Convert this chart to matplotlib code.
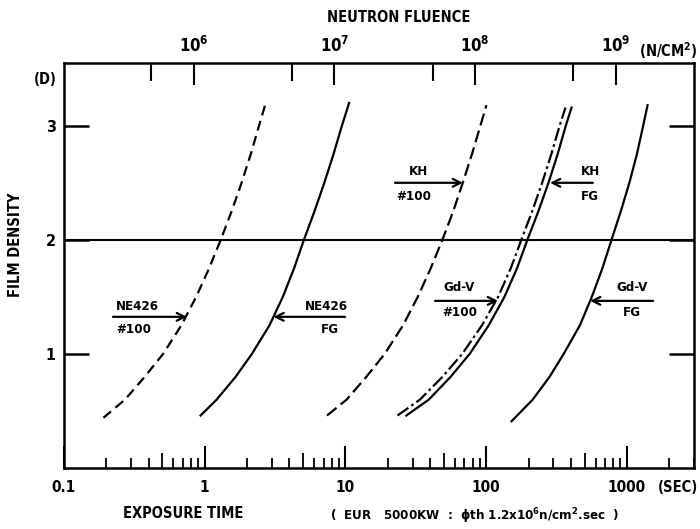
import matplotlib
matplotlib.use("Agg")
import matplotlib.pyplot as plt
from matplotlib.ticker import FixedLocator, NullFormatter, NullLocator, LogLocator

plt.rcParams['font.family'] = ['DejaVu Sans']
plt.rcParams['font.stretch'] = 'condensed'
plt.rcParams['font.weight'] = 'bold'
plt.rcParams['mathtext.default'] = 'regular'

# ---------------- data ----------------
FLUX = 1.2e6  # n/cm2/sec, converts exposure time -> neutron fluence

ne426_100_t = [0.1905, 0.2716, 0.375, 0.506, 0.682, 0.869, 1.074, 1.300, 1.552, 1.828, 2.123, 2.432, 2.716]
ne426_100_d = [0.44, 0.60, 0.80, 1.00, 1.25, 1.50, 1.75, 2.00, 2.25, 2.50, 2.75, 3.00, 3.20]

ne426_fg_t = [0.935, 1.216, 1.660, 2.163, 2.884, 3.589, 4.315, 5.070, 6.026, 7.079, 8.222, 9.441, 10.62]
ne426_fg_d = [0.46, 0.60, 0.80, 1.00, 1.25, 1.50, 1.75, 2.00, 2.25, 2.50, 2.75, 3.00, 3.20]

kh_100_t = [7.396, 10.21, 14.09, 19.01, 25.64, 32.66, 40.36, 48.87, 58.34, 68.23, 79.25, 90.99, 100.5]
kh_100_d = [0.46, 0.60, 0.80, 1.00, 1.25, 1.50, 1.75, 2.00, 2.25, 2.50, 2.75, 3.00, 3.18]

gdv_100_t = [23.44, 33.88, 48.98, 67.61, 93.33, 121.6, 149.6, 177.8, 212.3, 250.0, 290.4, 332.7, 366.4]
gdv_100_d = [0.46, 0.60, 0.80, 1.00, 1.25, 1.50, 1.75, 2.00, 2.25, 2.50, 2.75, 3.00, 3.16]

kh_fg_t = [27.10, 39.17, 55.98, 76.38, 104.2, 134.9, 165.6, 196.3, 235.0, 277.3, 322.1, 368.1, 404.6]
kh_fg_d = [0.46, 0.60, 0.80, 1.00, 1.25, 1.50, 1.75, 2.00, 2.25, 2.50, 2.75, 3.00, 3.16]

gdv_fg_t = [151.7, 214.3, 282.5, 355.6, 463.4, 563.6, 669.9, 778.0, 905.7, 1042, 1178, 1306, 1403]
gdv_fg_d = [0.41, 0.60, 0.80, 1.00, 1.25, 1.50, 1.75, 2.00, 2.25, 2.50, 2.75, 3.00, 3.18]

x_ticks = [0.1, 1, 10, 100, 1000]
x_tick_labels = ['0.1', '1', '10', '100', '1000']
x_mid_ticks = [0.5, 5, 50, 500]
y_ticks = [1, 2, 3]
y_tick_labels = ['1', '2', '3']
top_ticks = [1e6, 1e7, 1e8, 1e9]
top_tick_labels = ['$10^6$', '$10^7$', '$10^8$', '$10^9$']
top_minor_ticks = [5e5, 5e6, 5e7, 5e8]
ref_density = 2.0

# labels: (upper, lower, tail_t, tip_t, density, upper_t, upper_d, lower_t, lower_d)
annotations = [
    ('NE426', '#100', 0.223, 0.748, 1.325, 0.330, 1.42, 0.315, 1.21),
    ('NE426', 'FG', 9.93, 3.08, 1.325, 7.28, 1.42, 7.78, 1.21),
    ('KH', '#100', 22.5, 68.5, 2.50, 32.8, 2.60, 30.7, 2.38),
    ('KH', 'FG', 573.8, 284.4, 2.50, 547.7, 2.60, 547.7, 2.38),
    ('Gd-V', '#100', 43.4, 121.5, 1.465, 64.7, 1.58, 65.2, 1.36),
    ('Gd-V', 'FG', 1535, 547.7, 1.465, 1089, 1.58, 1089, 1.36),
]

# ---------------- figure ----------------
W, H = 700, 529
fig = plt.figure(figsize=(W / 100, H / 100), dpi=100)
L, R, T, B = 64, 694, 63, 468
ax = fig.add_axes([L / W, 1 - B / H, (R - L) / W, (B - T) / H])

ax.set_xscale('log')
ax.set_xlim(0.1, 3000)
ax.set_ylim(0, 3.55)

lw = 1.6
ax.plot(ne426_100_t, ne426_100_d, color='black', lw=lw, dashes=(4.5, 2.6))
ax.plot(ne426_fg_t, ne426_fg_d, color='black', lw=lw)
ax.plot(kh_100_t, kh_100_d, color='black', lw=lw, dashes=(5.5, 2.4))
ax.plot(gdv_100_t, gdv_100_d, color='black', lw=lw, dashes=(6, 1.6, 1.2, 1.6))
ax.plot(kh_fg_t, kh_fg_d, color='black', lw=lw)
ax.plot(gdv_fg_t, gdv_fg_d, color='black', lw=lw)

ax.axhline(ref_density, color='black', lw=1.5)

for up, lo, tail, tip, d, ux, uy, lx, ly in annotations:
    ax.annotate('', xy=(tip, d), xytext=(tail, d),
                arrowprops=dict(arrowstyle='->', lw=1.6, color='black',
                                shrinkA=0, shrinkB=0, mutation_scale=14))
    ax.text(ux, uy, up, ha='center', va='center', fontsize=9.5, fontweight='bold')
    ax.text(lx, ly, lo, ha='center', va='center', fontsize=9.5, fontweight='bold')

for s in ax.spines.values():
    s.set_linewidth(1.8)

ax.xaxis.set_major_locator(FixedLocator(x_ticks))
ax.set_xticklabels(x_tick_labels)
ax.xaxis.set_minor_locator(LogLocator(base=10, subs=(2, 3, 4, 6, 7, 8, 9), numticks=30))
ax.xaxis.set_minor_formatter(NullFormatter())
ax.tick_params(axis='x', which='major', direction='in', length=16, width=1.5,
               labelsize=11, pad=9, top=False)
ax.tick_params(axis='x', which='minor', direction='in', length=7, width=1.3, top=False)

ax.set_yticks(y_ticks)
ax.set_yticklabels(y_tick_labels)
ax.tick_params(axis='y', which='major', direction='in', length=18, width=1.8,
               labelsize=11.5, pad=6, right=True)

# medium ticks at 5 x 10^n on bottom
ax3 = ax.twiny()
ax3.set_xscale('log')
ax3.set_xlim(0.1, 3000)
ax3.xaxis.tick_bottom()
ax3.xaxis.set_major_locator(FixedLocator(x_mid_ticks))
ax3.xaxis.set_major_formatter(NullFormatter())
ax3.xaxis.set_minor_locator(NullLocator())
ax3.tick_params(axis='x', which='major', direction='in', length=11, width=1.3)
for s in ax3.spines.values():
    s.set_visible(False)

# top fluence axis
ax2 = ax.twiny()
ax2.set_xscale('log')
ax2.set_xlim(0.1 * FLUX, 3000 * FLUX)
ax2.xaxis.set_major_locator(FixedLocator(top_ticks))
ax2.set_xticklabels(top_tick_labels)
ax2.xaxis.set_minor_locator(FixedLocator(top_minor_ticks))
ax2.xaxis.set_minor_formatter(NullFormatter())
ax2.tick_params(axis='x', which='major', direction='in', length=16, width=1.5,
                labelsize=12, pad=5)
ax2.tick_params(axis='x', which='minor', direction='in', length=13, width=1.5)
for s in ax2.spines.values():
    s.set_visible(False)

def fx(px):
    return px / W

def fy(py):
    return 1 - py / H

fig.text(fx(399), fy(17), 'NEUTRON FLUENCE', ha='center', va='center', fontsize=10.5)
fig.text(fx(697), fy(51), '(N/CM$^2$)', ha='right', va='center', fontsize=10.5)
fig.text(fx(698), fy(488), '(SEC)', ha='right', va='center', fontsize=10.5)
fig.text(fx(45), fy(80), '(D)', ha='center', va='center', fontsize=10.5)
fig.text(fx(16), fy(245), 'FILM DENSITY', ha='center', va='center', fontsize=10.5,
         rotation=90)
fig.text(fx(183), fy(513), 'EXPOSURE TIME', ha='center', va='center', fontsize=10.5)
fig.text(fx(475), fy(516),
         '(  EUR   5000KW  :  $\\phi$th 1.2x10$^6$n/cm$^2$.sec  )',
         ha='center', va='center', fontsize=9.5)

fig.savefig('out.png', dpi=100, facecolor='white')
